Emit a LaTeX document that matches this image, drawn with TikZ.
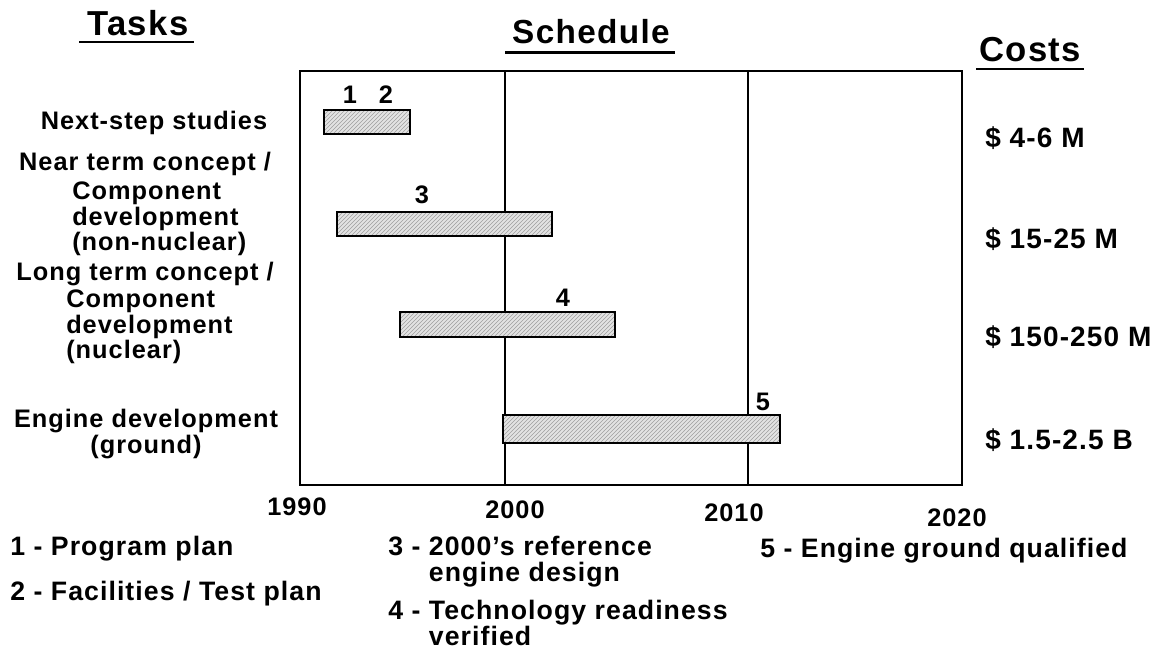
\documentclass[tikz,border=0pt]{standalone}
\usepackage{fontspec}
\setmainfont{Liberation Sans}[LetterSpace=4]
\usepackage{tikz}
\usetikzlibrary{patterns,positioning}

\begin{document}
\begin{tikzpicture}[x=0.75pt, y=-0.75pt,
  head/.style={font=\fontsize{26}{28}\selectfont\bfseries, inner sep=0pt},
  task/.style={font=\fontsize{19}{19}\selectfont\bfseries, align=center, inner sep=0pt},
  tasklines/.style={task, align=left, anchor=north west},
  cost/.style={font=\fontsize{21}{23}\selectfont\bfseries, anchor=west, inner sep=0pt},
  year/.style={font=\fontsize{19}{21}\selectfont\bfseries, inner sep=0pt},
  num/.style={font=\fontsize{19}{21}\selectfont\bfseries, inner sep=0pt},
  leg/.style={font=\fontsize{20}{19.5}\selectfont\bfseries, inner sep=0pt,
              align=left, anchor=north west},
  uline/.style={line width=1.6pt},
  frame/.style={line width=1.6pt},
  gridline/.style={line width=1.1pt},
  bar/.style={draw, line width=1.8pt, preaction={fill=gray!22},
              preaction={pattern=north east lines, pattern color=gray!75}}
]
\useasboundingbox (0,0) rectangle (1164,651);

% Column headers
\node[head] (tasks) at (138,23) {Tasks};
\node[head, font=\fontsize{25}{28}\selectfont\bfseries] (sched) at (591,32) {Schedule};
\node[head] (costs) at (1030,50) {Costs};
\draw[uline] ([xshift=-6pt,yshift=-4.5pt]tasks.south west) -- ([xshift=4pt,yshift=-4.5pt]tasks.south east);
\draw[uline] ([xshift=-5pt,yshift=-6pt]sched.south west) -- ([xshift=4pt,yshift=-6pt]sched.south east);
\draw[uline] ([xshift=-2pt,yshift=-5pt]costs.south west) -- ([xshift=2pt,yshift=-5pt]costs.south east);

% Schedule frame
\draw[frame] (300,71) rectangle (962,485);
\foreach \x in {505,748}
  \draw[gridline] (\x,71) -- (\x,485);

% Years
\foreach \yr/\x/\y in {1990/297/507, 2000/515/510, 2010/734/513, 2020/957/518}
  \node[year] (y\yr) at (\x,\y) {\yr};

% Bars
\draw[bar] (324,110) rectangle (410,134);
\draw[bar] (337,212) rectangle (552,236);
\draw[bar] (400,312) rectangle (615,337);
\draw[bar] (503,415) rectangle (780,443);

% Milestone numbers
\node[num] (m1) at (350,95)  {1};
\node[num] (m2) at (386,95)  {2};
\node[num] (m3) at (422,195) {3};
\node[num] (m4) at (563,298) {4};
\node[num] (m5) at (763,402) {5};

% Tasks
\node[task] (next) at (154,123) {Next-step studies};
\node[task] (near) at (145,164) {Near term concept /};
\node[tasklines] (nearsub) at (72,182) {Component\\development\\(non-nuclear)};
\node[task] (long) at (145,274) {Long term concept /};
\node[tasklines] (longsub) at (66,290) {Component\\development\\(nuclear)};
\node[task] (eng)  at (146,434) {Engine development\\(ground)};

% Costs
\node[cost] (c1) at (985,138) {\$ 4-6 M};
\node[cost] (c2) at (985,239) {\$ 15-25 M};
\node[cost] (c3) at (985,337) {\$ 150-250 M};
\node[cost] (c4) at (985,440) {\$ 1.5-2.5 B};

% Legend
\node[leg] (l1) at (10,536)  {1 - Program plan};
\node[leg] (l2) at (10,581)  {2 - Facilities / Test plan};
\node[leg] (l3) at (388,536) {3 - 2000's reference\\\phantom{3 -} engine design};
\node[leg] (l4) at (388,600) {4 - Technology readiness\\\phantom{4 -} verified};
\node[leg] (l5) at (760,538) {5 - Engine ground qualified};

\end{tikzpicture}
\end{document}
